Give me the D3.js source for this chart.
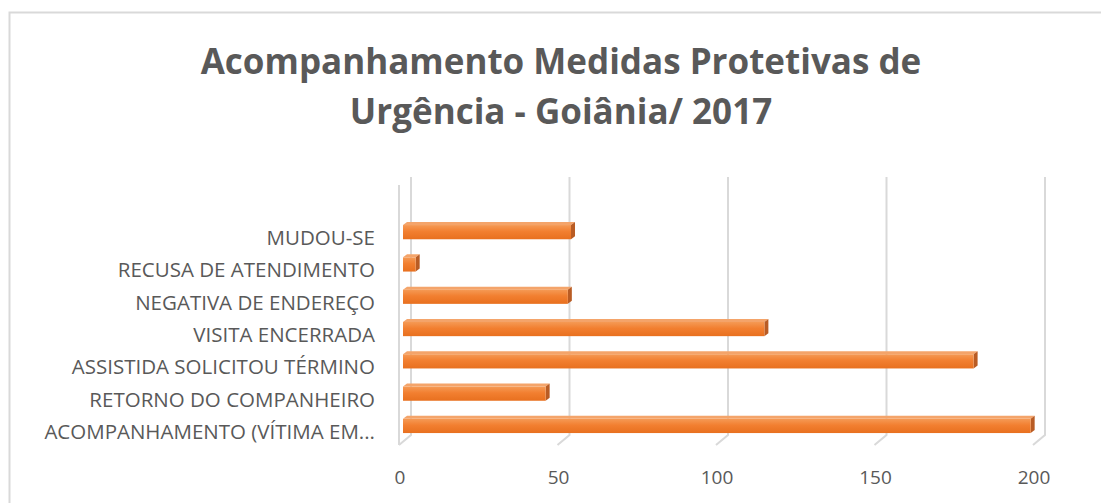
<!DOCTYPE html>
<html>
<head>
<meta charset="utf-8">
<script src="https://cdn.jsdelivr.net/npm/d3@7"></script>
<style>
  body { margin: 0; background: #fff; }
  text { font-family: "Open Sans", Lato, sans-serif; fill: #595959; }
</style>
</head>
<body>
<div id="chart"></div>
<script>
// categories from top to bottom, as in the chart
const categorias = [
    "MUDOU-SE",
    "RECUSA DE ATENDIMENTO",
    "NEGATIVA DE ENDEREÇO",
    "VISITA ENCERRADA",
    "ASSISTIDA SOLICITOU TÉRMINO",
    "RETORNO DO COMPANHEIRO",
    "ACOMPANHAMENTO (VÍTIMA EM..."
];
const valores = [53, 4, 52, 114, 180, 45, 198];
const ticks = [0, 50, 100, 150, 200];
const titulo = ["Acompanhamento Medidas Protetivas de", "Urgência - Goiânia/ 2017"];

const width = 1101, height = 503;
const depth = { dx: 12, dy: -10 };   // 3D offset of the back wall
const floorY = 445;

const svg = d3.select("#chart")
    .append("svg")
    .attr("width", width)
    .attr("height", height);

// gradient for the bar faces
const defs = svg.append("defs");
const grad = defs.append("linearGradient")
    .attr("id", "barFront")
    .attr("x1", 0).attr("y1", 0).attr("x2", 0).attr("y2", 1);
grad.append("stop").attr("offset", "0%").attr("stop-color", "#f59a55");
grad.append("stop").attr("offset", "45%").attr("stop-color", "#f27f30");
grad.append("stop").attr("offset", "100%").attr("stop-color", "#e8701f");

// chart border
svg.append("rect")
    .attr("x", 9.5).attr("y", 12.5)
    .attr("width", width + 20).attr("height", height + 20)
    .attr("fill", "none")
    .attr("stroke", "#d9d9d9")
    .attr("stroke-width", 2);

// title
svg.append("text")
    .attr("x", 561)
    .attr("text-anchor", "middle")
    .style("font-weight", "bold")
    .style("font-size", "35px")
    .selectAll("tspan")
    .data(titulo)
    .join("tspan")
    .attr("x", 561)
    .attr("y", (d, i) => 74 + i * 50)
    .text(d => d);

// scales
const x = d3.scaleLinear()
    .domain([0, 200])
    .range([399, 1033]);

const y = d3.scaleBand()
    .domain(categorias)
    .range([216, 442.1])
    .paddingInner(0.56)
    .paddingOuter(0.28);

// grid: back wall lines + floor diagonals
const grid = svg.append("g").attr("stroke", "#d9d9d9").attr("stroke-width", 2).attr("fill", "none");
grid.selectAll("path")
    .data(ticks)
    .join("path")
    .attr("d", d => {
        const xb = x(d) + depth.dx;
        return `M${xb},177 L${xb},${floorY + depth.dy} L${x(d)},${floorY}`;
    });
// left wall front edge
grid.append("line")
    .attr("x1", x(0)).attr("x2", x(0))
    .attr("y1", 185).attr("y2", floorY);

// x axis labels
svg.append("g")
    .selectAll("text")
    .data(ticks)
    .join("text")
    .attr("x", d => x(d) + 1)
    .attr("y", 484)
    .attr("text-anchor", "middle")
    .style("font-size", "19px")
    .text(d => d);

// category labels
svg.append("g")
    .selectAll("text")
    .data(categorias)
    .join("text")
    .attr("x", 375)
    .attr("y", d => y(d) + 20)
    .attr("text-anchor", "end")
    .style("font-size", "20.5px")
    .text(d => d);

// 3D bars
const off = 4;   // front face offset from the floor front
const bd = { dx: 4, dy: -3 }; // bar depth
const bars = svg.append("g")
    .selectAll("g")
    .data(categorias.map((c, i) => ({ cat: c, val: valores[i] })))
    .join("g");

bars.each(function (d) {
    const g = d3.select(this);
    const x0 = x(0) + off, x1 = x(d.val) + off;
    const y0 = y(d.cat), h = y.bandwidth();
    // top face
    g.append("path")
        .attr("d", `M${x0},${y0} L${x0 + bd.dx},${y0 + bd.dy} L${x1 + bd.dx},${y0 + bd.dy} L${x1},${y0} Z`)
        .attr("fill", "#f4a46a");
    // side face
    g.append("path")
        .attr("d", `M${x1},${y0} L${x1 + bd.dx},${y0 + bd.dy} L${x1 + bd.dx},${y0 + h + bd.dy} L${x1},${y0 + h} Z`)
        .attr("fill", "#b95c24");
    // front face
    g.append("rect")
        .attr("x", x0).attr("y", y0)
        .attr("width", x1 - x0).attr("height", h)
        .attr("fill", "url(#barFront)");
});
</script>
</body>
</html>
